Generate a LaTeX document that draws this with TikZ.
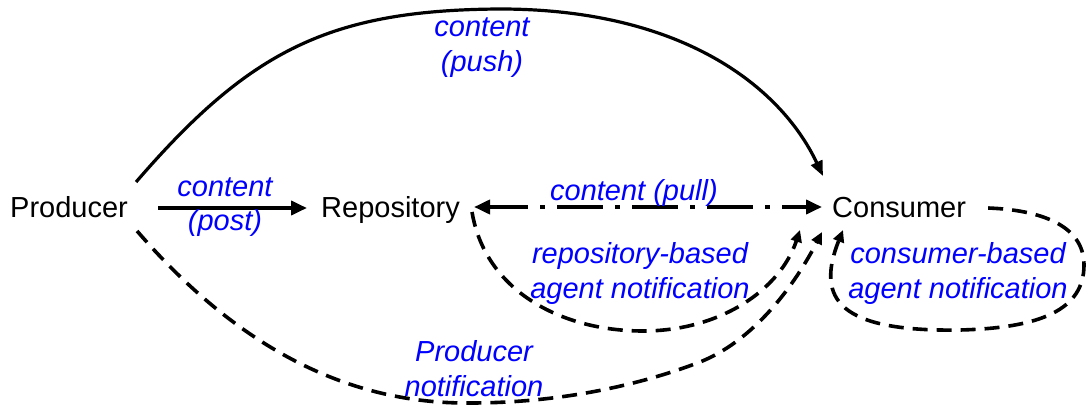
\documentclass[tikz,border=0pt]{standalone}
\usepackage{fontspec}
\setmainfont{Liberation Sans}
\usetikzlibrary{arrows.meta,calc}
\begin{document}
\begin{tikzpicture}[x=1pt,y=-1pt,
  every node/.style={inner sep=0pt},
  agent/.style={anchor=base west, font=\fontsize{29}{35}\selectfont},
  lbl/.style={anchor=base, text=blue, align=center,
    font=\fontsize{29}{35}\selectfont\itshape},
  flow/.style={line width=3.8pt, -{Triangle[length=16pt,width=14pt]}},
  push/.style={line width=3.2pt, -{Triangle[length=15pt,width=12pt]}},
  notify/.style={line width=3.6pt, dash pattern=on 15pt off 9pt,
    -{Triangle[length=12pt,width=11pt]}},
  pull/.style={line width=3.8pt,
    dash pattern=on 46pt off 12pt on 5pt off 12pt, dash phase=7pt,
    {Triangle[length=16pt,width=14pt]}-{Triangle[length=16pt,width=14pt]}},
]
\fill[white] (0,0) rectangle (1087,406);
\useasboundingbox (0,0) rectangle (1087,406);

% the three parties
\node[agent] (prod) at (10,218) {Producer};
\node[agent] (repo) at (321,218) {Repository};
\node[agent] (cons) at (832,218) {Consumer};

% content flows
\draw[flow] ($(prod.base east)+(30,-10)$) -- ($(repo.base west)+(-14,-10)$);
\draw[pull] ($(repo.base east)+(14,-11)$) -- ($(cons.base west)+(-10,-11)$);
\draw[push] ($(prod.base east)+(8,-36)$)
  .. controls (250,50) and (330,10) .. (500,9)
  .. controls (680,9) and (780,85) .. ($(cons.base west)+(-9,-42)$);

% notification paths
\draw[notify] ($(prod.base east)+(9,13)$)
  .. controls (240,350) and (350,404) .. (470,403)
  .. controls (560,403) and (640,385) .. (700,362)
  .. controls (760,338) and (800,275) .. ($(cons.base west)+(-10,14)$);
\draw[notify] ($(repo.base east)+(12,-6)$)
  .. controls (485,290) and (560,331) .. (643,331)
  .. controls (720,331) and (780,290) .. ($(cons.base west)+(-32,12)$);
\draw[notify] ($(cons.base east)+(22,-10)$)
  .. controls (1040,210) and (1084,225) .. (1084,265)
  .. controls (1084,310) and (1040,328) .. (960,330)
  .. controls (840,332) and (815,300) .. ($(cons.base west)+(11,12)$);

% labels (a multi-line node sits on the baseline of its last line)
\node[lbl] (lpush) at (482,72) {content\\(push)};
\node[lbl] (lpost) at (225,230) {content\\[-2pt](post)};
\node[lbl] (lpull) at (634,201) {content (pull)};
\node[lbl] (lrepo) at (640,298) {repository-based\\agent notification};
\node[lbl] (lcons) at (958,298) {consumer-based\\agent notification};
\node[lbl] (lprod) at (474,396) {Producer\\notification};
\end{tikzpicture}
\end{document}
